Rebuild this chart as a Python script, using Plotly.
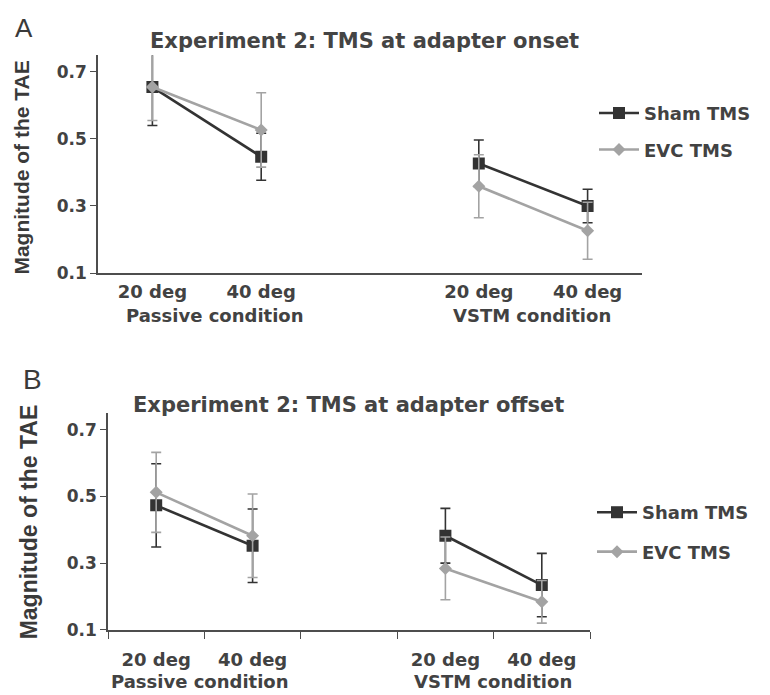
import plotly.graph_objects as go

# ---------------- data ----------------
categories = ["Passive 20 deg", "Passive 40 deg", "VSTM 20 deg", "VSTM 40 deg"]
category_order = ["Passive 20 deg", "Passive 40 deg", "gap", "VSTM 20 deg", "VSTM 40 deg"]
tick_labels = ["20 deg", "40 deg", "", "20 deg", "40 deg"]
group_labels = ["Passive condition", "VSTM condition"]
y_ticks = [0.1, 0.3, 0.5, 0.7]
y_tick_labels = ["0.1", "0.3", "0.5", "0.7"]

# Panel A: TMS at adapter onset
onset_sham = [0.655, 0.447, 0.427, 0.300]
onset_sham_err = [0.115, 0.070, 0.070, 0.050]
onset_evc = [0.655, 0.527, 0.359, 0.226]
onset_evc_err = [0.100, 0.111, 0.094, 0.085]

# Panel B: TMS at adapter offset
offset_sham = [0.473, 0.352, 0.382, 0.234]
offset_sham_err = [0.125, 0.110, 0.082, 0.095]
offset_evc = [0.512, 0.382, 0.284, 0.184]
offset_evc_err = [0.120, 0.125, 0.094, 0.064]

title_a = "Experiment 2: TMS at adapter onset"
title_b = "Experiment 2: TMS at adapter offset"
y_title = "Magnitude of the TAE"
series_names = ["Sham TMS", "EVC TMS"]

# ---------------- style ----------------
W, H = 770, 695
SHAM = "#333333"
EVC = "#a3a3a3"
TXT = "#424242"
AX = "#4d4d4d"
BOLD = "DejaVu Sans"
YT = "Liberation Sans"


def px(x):
    return x / W


def py(y):
    return (H - y) / H


def with_gap(values):
    """Insert a break (None) for the empty slot between the two conditions."""
    lookup = dict(zip(categories, values))
    return [lookup.get(c) for c in category_order]


fig = go.Figure()


def add_series(xa, ya, y, err, name, color, symbol, size, legend):
    fig.add_trace(go.Scatter(
        x=category_order, y=with_gap(y), xaxis=xa, yaxis=ya, name=name,
        mode="lines+markers", connectgaps=False,
        line=dict(color=color, width=2.6),
        marker=dict(symbol=symbol, size=size, color=color),
        error_y=dict(type="data", array=with_gap(err), visible=True,
                     color=color, thickness=1.6, width=5),
        legend=legend, showlegend=True,
    ))


add_series("x", "y", onset_sham, onset_sham_err, series_names[0], SHAM, "square", 12, "legend")
add_series("x", "y", onset_evc, onset_evc_err, series_names[1], EVC, "diamond", 10, "legend2")
add_series("x2", "y2", offset_sham, offset_sham_err, series_names[0], SHAM, "square", 12, "legend3")
add_series("x2", "y2", offset_evc, offset_evc_err, series_names[1], EVC, "diamond", 10, "legend4")

xbase = dict(type="category", categoryorder="array", categoryarray=category_order,
             range=[-0.5, 4.5], tickmode="array", tickvals=category_order,
             ticktext=tick_labels, showline=True, linecolor=AX, linewidth=1.6,
             showgrid=False, zeroline=False,
             tickfont=dict(family=BOLD, size=18, color=TXT, weight="bold"))
ybase = dict(range=[0.1, 0.75], tickmode="array", tickvals=y_ticks, ticktext=y_tick_labels,
             showline=True, linecolor=AX, linewidth=1.6, ticks="outside", ticklen=6,
             tickcolor=AX, tickwidth=1.4, showgrid=False, zeroline=False,
             tickfont=dict(family=BOLD, size=17, color=TXT, weight="bold"))

fig.update_layout(
    width=W, height=H, margin=dict(l=0, r=0, t=0, b=0),
    paper_bgcolor="white", plot_bgcolor="white",
    xaxis=dict(xbase, domain=[px(98), px(642)], anchor="y", ticks="", ticklabelstandoff=2),
    yaxis=dict(ybase, domain=[py(277), py(56)], anchor="x"),
    xaxis2=dict(xbase, domain=[px(108), px(590)], anchor="y2", ticks="outside",
                tickson="boundaries", ticklen=7, tickcolor=AX, tickwidth=1.4,
                ticklabelstandoff=13),
    yaxis2=dict(ybase, domain=[py(639), py(419)], anchor="x2"),
)

leg_font = dict(family=BOLD, size=18, color=TXT, weight="bold")


def legend_at(xp, yp):
    return dict(x=px(xp), y=py(yp), xanchor="left", yanchor="middle",
                font=leg_font, bgcolor="rgba(0,0,0,0)", borderwidth=0,
                itemwidth=40, tracegroupgap=0)


fig.update_layout(
    legend=legend_at(594, 115),
    legend2=legend_at(594, 152),
    legend3=legend_at(592, 520),
    legend4=legend_at(592, 560),
)


def note(text, x, y, font, angle=0):
    return dict(text=text, x=px(x), y=py(y), xref="paper", yref="paper",
                xanchor="center", yanchor="middle", showarrow=False,
                textangle=angle, font=font)


tfont = dict(family=BOLD, size=21, color="#444444", weight="bold")
gfont = dict(family=BOLD, size=18, color=TXT, weight="bold")
ann = [
    note(title_a, 364, 42, tfont),
    note(title_b, 348, 411, tfont),
    note("A", 24, 28, dict(family="Liberation Sans", size=26, color="#3a3a3a")),
    note("B", 32, 385, dict(family="Liberation Sans", size=28, color="#3a3a3a")),
    note(y_title, 22, 170, dict(family=YT, size=21, color="#3a3a3a", weight="bold"), -90),
    note(y_title, 29, 530, dict(family=YT, size=23, color="#3a3a3a", weight="bold"), -90),
    note(group_labels[0], 215, 320, gfont),
    note(group_labels[1], 532, 320, gfont),
    note(group_labels[0], 200, 691, gfont),
    note(group_labels[1], 493, 691, gfont),
]
fig.update_layout(annotations=ann)

fig.write_html("out.html")
